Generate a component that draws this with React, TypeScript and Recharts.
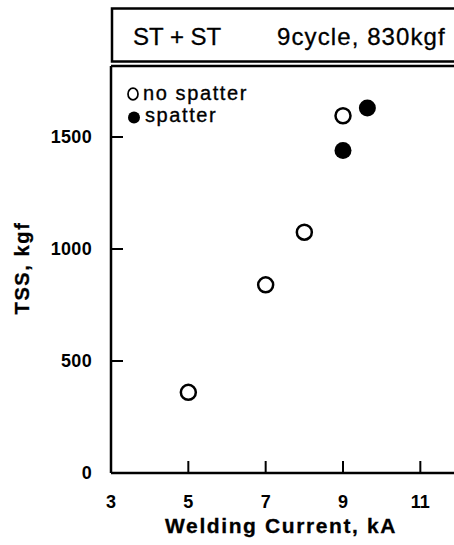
import React from 'react';
import { ScatterChart, Scatter, XAxis, YAxis, ReferenceLine, Legend } from 'recharts';

// ---- data ----
const noSpatterCurrent = [5, 7, 8, 9];
const noSpatterTSS = [360, 840, 1075, 1595];
const spatterCurrent = [9, 9.63];
const spatterTSS = [1440, 1630];
const xTicks = [3, 5, 7, 9, 11];
const yTicks = [0, 500, 1000, 1500];
const legendLabels = ['no spatter', 'spatter'];
const headerLeft = 'ST + ST';
const headerRight = '9cycle, 830kgf';
const xTitle = 'Welding Current, kA';
const yTitle = 'TSS, kgf';

const noSpatter = noSpatterCurrent.map((x, i) => ({ x, y: noSpatterTSS[i] }));
const spatter = spatterCurrent.map((x, i) => ({ x, y: spatterTSS[i] }));

const FONT = '"Liberation Sans", Arial, Helvetica, sans-serif';

const OpenDot = (p: any) => (
  <circle cx={p.cx} cy={p.cy} r={7.5} fill="#fff" stroke="#000" strokeWidth={2.5} />
);
const FilledDot = (p: any) => <circle cx={p.cx} cy={p.cy} r={8.5} fill="#000" />;

const renderXTitle = () => (
  <text x={281} y={533} textAnchor="middle" fontFamily={FONT} fontSize={21} fontWeight={700}
    letterSpacing={1.6} fill="#000" stroke="#000" strokeWidth={0.3}>{xTitle}</text>
);
const renderYTitle = () => (
  <text x={0} y={0} transform="translate(29,268) rotate(-90)" textAnchor="middle" fontFamily={FONT}
    fontSize={20} fontWeight={700} letterSpacing={1.6} fill="#000" stroke="#000" strokeWidth={0.3}>{yTitle}</text>
);

const renderLegend = () => (
  <svg width={170} height={56} style={{ display: 'block', overflow: 'visible' }}>
    <ellipse cx={11} cy={14} rx={5} ry={5.8} fill="#fff" stroke="#000" strokeWidth={1.7} />
    <text x={21} y={20} fontFamily={FONT} fontSize={20} letterSpacing={1.6} fill="#000" stroke="#000" strokeWidth={0.35}>{legendLabels[0]}</text>
    <circle cx={12} cy={37.5} r={6} fill="#000" />
    <text x={23} y={42} fontFamily={FONT} fontSize={20} letterSpacing={1.6} fill="#000" stroke="#000" strokeWidth={0.35}>{legendLabels[1]}</text>
  </svg>
);

export default function App() {
  return (
    <div style={{ position: 'absolute', left: 0, top: 0, width: 454, height: 545, overflow: 'hidden', background: '#fff' }}>
      <ScatterChart width={470} height={545} margin={{ top: 66, right: 11, bottom: 0, left: 0 }}>
        <XAxis type="number" dataKey="x" domain={[3, 12]} ticks={xTicks} allowDataOverflow height={72}
          axisLine={{ stroke: '#000', strokeWidth: 2.5 }} tickLine={{ stroke: '#000', strokeWidth: 2 }}
          tickSize={-12} tickMargin={34}
          tick={{ fill: '#000', fontSize: 18, fontWeight: 700, fontFamily: FONT }}
          label={renderXTitle} />
        <YAxis type="number" dataKey="y" domain={[0, 1817]} ticks={yTicks} allowDataOverflow width={111}
          axisLine={{ stroke: '#000', strokeWidth: 2.5 }} tickLine={{ stroke: '#000', strokeWidth: 2 }}
          tickSize={-12} tickMargin={31}
          tick={{ fill: '#000', fontSize: 18, fontWeight: 700, fontFamily: FONT, letterSpacing: 0.3 }}
          label={renderYTitle} />
        <ReferenceLine y={1817} stroke="#000" strokeWidth={2.5} />
        <Legend layout="horizontal" verticalAlign="middle" align="center" content={renderLegend}
          wrapperStyle={{ position: 'absolute', left: 122, top: 80, width: 170, height: 56 }} />
        <Scatter name={legendLabels[0]} data={noSpatter} shape={OpenDot} isAnimationActive={false} />
        <Scatter name={legendLabels[1]} data={spatter} shape={FilledDot} isAnimationActive={false} />
      </ScatterChart>
      <svg width={454} height={70} style={{ position: 'absolute', left: 0, top: 0 }}>
        <rect x={112} y={8.5} width={400} height={53} fill="none" stroke="#000" strokeWidth={2.5} />
        <text x={133} y={45} fontFamily={FONT} fontSize={24} fill="#000" stroke="#000" strokeWidth={0.3}>{headerLeft}</text>
        <text x={277} y={45} fontFamily={FONT} fontSize={24} letterSpacing={1.1} fill="#000" stroke="#000" strokeWidth={0.3}>{headerRight}</text>
      </svg>
    </div>
  );
}
